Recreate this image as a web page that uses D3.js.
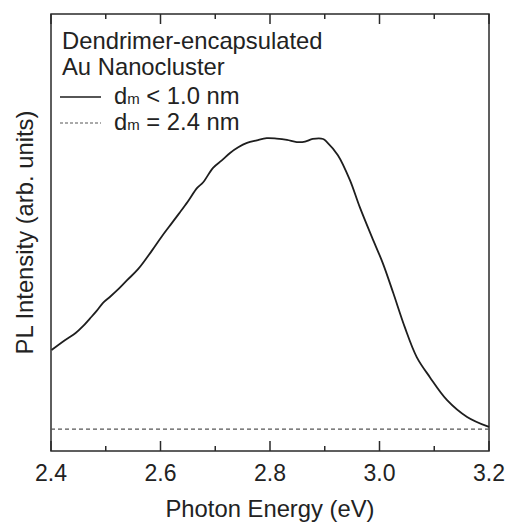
<!DOCTYPE html>
<html>
<head>
<meta charset="utf-8">
<script src="https://cdn.jsdelivr.net/npm/d3@7"></script>
<style>
  body { margin: 0; background: #fff; }
  svg { display: block; font-family: "Liberation Sans", Arial, sans-serif; }
</style>
</head>
<body>
<div id="chart"></div>
<script>
// PL spectrum
const energy = [2.401, 2.426, 2.445, 2.458, 2.471, 2.483, 2.495, 2.508, 2.521, 2.539, 2.559, 2.584, 2.603, 2.621,
  2.636, 2.650, 2.667, 2.678, 2.696, 2.712, 2.727, 2.742, 2.758, 2.776, 2.794, 2.812, 2.831, 2.849, 2.864,
  2.878, 2.897, 2.904, 2.924, 2.946, 2.964, 2.986, 3.006, 3.025, 3.046, 3.068, 3.092, 3.123, 3.160, 3.200];
const intensity = [0.231, 0.254, 0.270, 0.285, 0.303, 0.320, 0.339, 0.353, 0.368, 0.391, 0.416, 0.458, 0.492, 0.522,
  0.547, 0.571, 0.602, 0.615, 0.648, 0.665, 0.682, 0.695, 0.705, 0.711, 0.716, 0.715, 0.712, 0.707, 0.708,
  0.714, 0.714, 0.707, 0.677, 0.620, 0.558, 0.490, 0.430, 0.362, 0.284, 0.215, 0.169, 0.117, 0.078, 0.055];

// d_m = 2.4 nm trace (flat)
const energyFlat = [2.4, 3.2];
const intensityFlat = [0.05, 0.05];

const majorTicks = [2.4, 2.6, 2.8, 3.0, 3.2];
const minorTicks = [2.5, 2.7, 2.9, 3.1];

const legendTitle = ['Dendrimer-encapsulated', 'Au Nanocluster'];
const legendItems = [
  { sub: 'm', text: ' < 1.0 nm', dash: null },
  { sub: 'm', text: ' = 2.4 nm', dash: '3,2' }
];

const width = 508, height = 523;
const margin = { top: 14, right: 19, bottom: 72, left: 51 };
const iw = width - margin.left - margin.right;
const ih = height - margin.top - margin.bottom;
const bigFont = '23.8px';

const svg = d3.select('#chart').append('svg')
  .attr('width', width)
  .attr('height', height);

const g = svg.append('g')
  .attr('transform', `translate(${margin.left},${margin.top})`);

const x = d3.scaleLinear().domain([2.4, 3.2]).range([0, iw]);
const y = d3.scaleLinear().domain([0, 1]).range([ih, 0]);

// 刻度（朝内）
const tickLen = 10, minorLen = 5;
const ink = '#2a2a2a';

function drawTicks(yPos, dir) {
  g.selectAll(null)
    .data(majorTicks)
    .enter().append('line')
    .attr('x1', d => x(d)).attr('x2', d => x(d))
    .attr('y1', yPos).attr('y2', yPos + dir * tickLen)
    .style('stroke', ink).style('stroke-width', 1.5);
  g.selectAll(null)
    .data(minorTicks)
    .enter().append('line')
    .attr('x1', d => x(d)).attr('x2', d => x(d))
    .attr('y1', yPos).attr('y2', yPos + dir * minorLen)
    .style('stroke', ink).style('stroke-width', 1.5);
}
drawTicks(ih, -1);
drawTicks(0, 1);

// tick labels
g.selectAll('.tick-label')
  .data(majorTicks)
  .enter().append('text')
  .attr('class', 'tick-label')
  .attr('x', d => x(d))
  .attr('y', ih + 30)
  .attr('text-anchor', 'middle')
  .style('font-size', '23px')
  .style('fill', '#222')
  .text(d => d3.format('.1f')(d));

// frame
g.append('rect')
  .attr('width', iw).attr('height', ih)
  .style('fill', 'none')
  .style('stroke', ink)
  .style('stroke-width', 1.5);

// lines
const line = d3.line()
  .x(d => x(d[0]))
  .y(d => y(d[1]))
  .curve(d3.curveCatmullRom.alpha(0.5));

g.append('path')
  .datum(energyFlat.map((e, i) => [e, intensityFlat[i]]))
  .attr('d', line)
  .style('fill', 'none')
  .style('stroke', '#555')
  .style('stroke-width', 1.2)
  .style('stroke-dasharray', '4,3');

g.append('path')
  .datum(energy.map((e, i) => [e, intensity[i]]))
  .attr('d', line)
  .style('fill', 'none')
  .style('stroke', '#1e1e1e')
  .style('stroke-width', 1.8)
  .style('stroke-linejoin', 'round');

// axis titles
svg.append('text')
  .attr('x', margin.left + iw / 2)
  .attr('y', 517)
  .attr('text-anchor', 'middle')
  .style('font-size', bigFont)
  .style('fill', '#222')
  .text('Photon Energy (eV)');

svg.append('text')
  .attr('transform', `translate(33,${margin.top + ih / 2}) rotate(-90)`)
  .attr('text-anchor', 'middle')
  .style('font-size', bigFont)
  .style('fill', '#222')
  .text('PL Intensity (arb. units)');

// legend
legendTitle.forEach((t, i) => {
  svg.append('text')
    .attr('x', 62)
    .attr('y', 49 + i * 26)
    .style('font-size', bigFont)
    .style('fill', '#222')
    .text(t);
});

legendItems.forEach((item, i) => {
  const ly = 97 + i * 26;
  svg.append('line')
    .attr('x1', 60).attr('x2', 101)
    .attr('y1', ly).attr('y2', ly)
    .style('stroke', item.dash ? '#555' : '#1e1e1e')
    .style('stroke-width', item.dash ? 1 : 1.5)
    .style('stroke-dasharray', item.dash);
  const t = svg.append('text')
    .attr('x', 114)
    .attr('y', ly + 7)
    .style('font-size', bigFont)
    .style('fill', '#222');
  t.append('tspan').text('d');
  t.append('tspan').style('font-size', '15px').text(item.sub);
  t.append('tspan').text(item.text);
});
</script>
</body>
</html>
